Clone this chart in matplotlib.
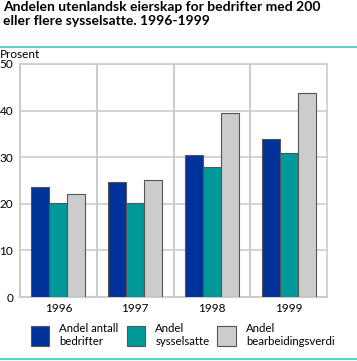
import matplotlib
matplotlib.use("Agg")
import matplotlib.pyplot as plt
from matplotlib.lines import Line2D
from matplotlib.patches import Patch
import numpy as np

years = ["1996", "1997", "1998", "1999"]
andel_bedrifter = [23.5, 24.6, 30.4, 33.8]
andel_sysselsatte = [20.1, 20.1, 27.8, 30.8]
andel_bearbeidingsverdi = [22.0, 25.2, 39.4, 43.7]
series_labels = ["Andel antall\nbedrifter", "Andel\nsysselsatte", "Andel\nbearbeidingsverdi"]
colors = ["#003399", "#009999", "#cccccc"]
yticks = [0, 10, 20, 30, 40, 50]

plt.rcParams['font.family'] = ['Lato', 'DejaVu Sans']
fig = plt.figure(figsize=(3.57, 3.61), dpi=100)
ax = fig.add_axes([20/357, 1-297/361, 307/357, (297-64)/361])

x = np.arange(len(years))
w = 0.235
for i, (vals, c) in enumerate(zip([andel_bedrifter, andel_sysselsatte, andel_bearbeidingsverdi], colors)):
    ax.bar(x + (i-1)*w, vals, width=w, color=c, edgecolor="#555555", linewidth=0.8, zorder=3)

ax.set_xlim(-0.5, len(years)-0.5)
ax.set_ylim(0, 50)
ax.set_yticks(yticks)
ax.set_yticklabels([str(t) for t in yticks], fontsize=8.5)
ax.set_xticks(x)
ax.set_xticklabels(years, fontsize=8.5)
ax.tick_params(axis='y', length=0, pad=5)
ax.tick_params(axis='x', length=0, pad=4)
ax.yaxis.grid(True, color="#cccccc", linewidth=1.2, zorder=0)
for b in np.arange(0.5, len(years)-0.5, 1):
    ax.axvline(b, color="#cccccc", linewidth=1.5, zorder=0)
for s in ["top", "right"]:
    ax.spines[s].set_color("#cccccc")
    ax.spines[s].set_linewidth(1.2)
for s in ["left", "bottom"]:
    ax.spines[s].set_color("#cccccc")
    ax.spines[s].set_linewidth(1.5)

fig.text(3/357, 1-1/361, "Andelen utenlandsk eierskap for bedrifter med 200\neller flere sysselsatte. 1996-1999",
         fontsize=10, fontweight="bold", va="top", ha="left", linespacing=1.2)
fig.add_artist(Line2D([0.0, 1.0], [1-47/361, 1-47/361], color="#66cccc", linewidth=1.5))
fig.add_artist(Line2D([0.0, 1.0], [1-359/361, 1-359/361], color="#66cccc", linewidth=1.5))
fig.text(0.0, 1-49/361, "Prosent", fontsize=8.5, va="top", ha="left")

handles = [Patch(facecolor=c, edgecolor="#555555", linewidth=0.8) for c in colors]
leg = fig.legend(handles, series_labels, loc="upper left", bbox_to_anchor=(31/357, 1-323/361),
                 ncol=3, frameon=False, fontsize=8.2, handlelength=1.6, handleheight=2.3,
                 columnspacing=0.7, handletextpad=0.9, borderaxespad=0, borderpad=0)

fig.savefig("out.png", dpi=100)
